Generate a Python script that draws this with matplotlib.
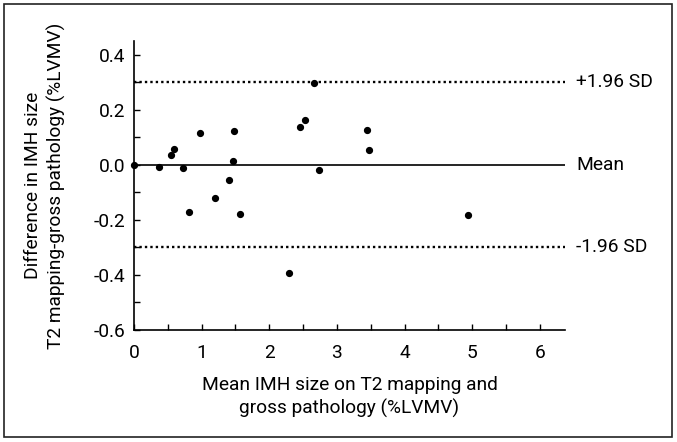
import numpy as np
import matplotlib
matplotlib.use('Agg')
import matplotlib.pyplot as plt
from matplotlib.patches import Rectangle

# Bland-Altman data
mean_size = [0.00, 0.37, 0.54, 0.59, 0.73, 0.82, 0.98, 1.20, 1.40, 1.48,
             1.47, 1.56, 2.29, 2.45, 2.52, 2.66, 2.73, 3.44, 3.48, 4.94]
diff_size = [0.000, -0.007, 0.036, 0.056, -0.013, -0.171, 0.115, -0.121, -0.056, 0.122,
             0.015, -0.178, -0.392, 0.138, 0.164, 0.296, -0.019, 0.128, 0.055, -0.182]
mean_diff = 0.0
upper_sd = 0.30
lower_sd = -0.30
ref_labels = ['+1.96 SD', 'Mean', '-1.96 SD']

plt.rcParams['font.family'] = ['Roboto', 'DejaVu Sans']
plt.rcParams['font.size'] = 13.8

fig = plt.figure(figsize=(6.77, 4.42), dpi=100)
ax = fig.add_axes([134 / 677, 1 - 330 / 442, 431 / 677, 289 / 442])

# frame round the whole figure
fig.patches.append(Rectangle((4 / 677, 5 / 442), 668 / 677, 433 / 442,
                             transform=fig.transFigure, fill=False,
                             edgecolor='#222222', linewidth=1.2))

ax.axhline(mean_diff, color='black', lw=1.2)
ax.axhline(upper_sd, color='black', lw=1.7, ls=(0, (1, 1.3)))
ax.axhline(lower_sd, color='black', lw=1.7, ls=(0, (1, 1.3)))
ax.plot(mean_size, diff_size, 'o', color='black', ms=4.2, clip_on=False, zorder=5)

ytr = ax.get_yaxis_transform()
for val, lab in zip([upper_sd, mean_diff, lower_sd], ref_labels):
    ax.text(1.026, val, lab, transform=ytr, va='center', ha='left')

ax.set_xlim(0, 6.37)
ax.set_ylim(-0.6, 0.45)
ax.set_xticks(np.arange(0, 7, 1))
ax.set_xticks(np.arange(0, 6.5, 0.5), minor=True)
ax.set_yticks([-0.6, -0.4, -0.2, 0.0, 0.2, 0.4])
ax.set_yticks(np.arange(-0.6, 0.45, 0.1), minor=True)
ax.set_yticklabels(['-0.6', '-0.4', '-0.2', '0.0', '0.2', '0.4'])

for s in ['top', 'right']:
    ax.spines[s].set_visible(False)
for s in ['left', 'bottom']:
    ax.spines[s].set_linewidth(1.2)
ax.tick_params(which='both', direction='in', length=4, width=1)
ax.tick_params(axis='x', which='major', pad=10)
ax.tick_params(axis='y', which='major', pad=6)

ax.set_xlabel('Mean IMH size on T2 mapping and\ngross pathology (%LVMV)', linespacing=1.3)
ax.set_ylabel('Difference in IMH size\nT2 mapping-gross pathology (%LVMV)', linespacing=1.3)
ax.xaxis.set_label_coords(0.5, -0.16)
ax.yaxis.set_label_coords(-0.158, 0.5)

fig.savefig('out.png', dpi=100)
